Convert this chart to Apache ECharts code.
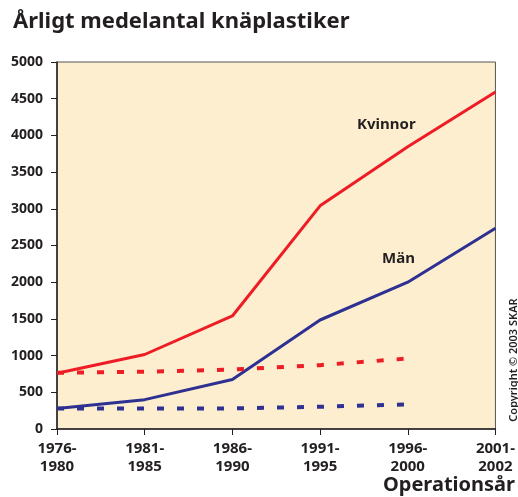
<!DOCTYPE html>
<html>
<head>
<meta charset="utf-8">
<script src="https://cdn.jsdelivr.net/npm/echarts@6/dist/echarts.min.js"></script>
<style>
html,body{margin:0;padding:0;background:#fff;}
#chart{width:518px;height:497px;}
</style>
</head>
<body>
<div id="chart"></div>
<script>
var categories = ['1976-\n1980', '1981-\n1985', '1986-\n1990', '1991-\n1995', '1996-\n2000', '2001-\n2002'];
var kvinnor = [760, 1015, 1540, 3040, 3845, 4590];
var man = [280, 400, 675, 1485, 2000, 2735];
var kvinnorDashed = [765, 780, 810, 870, 960, null];
var manDashed = [280, 280, 280, 303, 335, null];
var yMin = 0, yMax = 5000, yStep = 500;

var textColor = '#231f20';
var fontFam = '"Noto Sans", "Open Sans", sans-serif';
var red = '#ee1c25';
var blue = '#2e3192';

var chart = echarts.init(document.getElementById('chart'));
chart.setOption({
  animation: false,
  backgroundColor: '#ffffff',
  grid: {
    left: 57, right: 15, top: 62, bottom: 68,
    show: true, backgroundColor: '#fdeecf', borderColor: '#555', borderWidth: 1
  },
  title: {
    text: 'Årligt medelantal knäplastiker',
    left: 8, top: 6,
    textStyle: {fontFamily: fontFam, fontWeight: 'bold', fontSize: 22, color: textColor}
  },
  xAxis: {
    type: 'category',
    data: categories,
    boundaryGap: false,
    axisLine: {lineStyle: {color: '#231f20', width: 1.5}},
    axisTick: {show: true, length: 6, lineStyle: {color: '#231f20', width: 1}},
    axisLabel: {
      interval: 0, margin: 11, color: textColor, fontFamily: fontFam,
      fontWeight: 'bold', fontSize: 15, lineHeight: 18
    },
    splitLine: {show: false}
  },
  yAxis: {
    type: 'value',
    min: yMin, max: yMax, interval: yStep,
    axisLine: {show: true, lineStyle: {color: '#231f20', width: 1.5}},
    axisTick: {show: true, length: 6, lineStyle: {color: '#231f20', width: 1}},
    axisLabel: {margin: 14, color: textColor, fontFamily: fontFam, fontWeight: 'bold', fontSize: 14,
                formatter: function (v) { return String(v); }},
    splitLine: {show: false}
  },
  series: [
    {name: 'Kvinnor', type: 'line', data: kvinnor, symbol: 'none',
     lineStyle: {color: red, width: 3}},
    {name: 'Män', type: 'line', data: man, symbol: 'none',
     lineStyle: {color: blue, width: 3}},
    {name: 'Kvinnor streckad', type: 'line', data: kvinnorDashed, symbol: 'none',
     lineStyle: {color: red, width: 4, type: [7, 13]}},
    {name: 'Män streckad', type: 'line', data: manDashed, symbol: 'none',
     lineStyle: {color: blue, width: 4, type: [7, 13]}}
  ],
  graphic: [
    {type: 'text', left: 357, top: 117,
     style: {text: 'Kvinnor', fill: textColor, font: 'bold 15px ' + fontFam}},
    {type: 'text', left: 382, top: 251,
     style: {text: 'Män', fill: textColor, font: 'bold 15px ' + fontFam}},
    {type: 'text', right: 3, top: 475,
     style: {text: 'Operationsår', fill: textColor, font: 'bold 20px ' + fontFam}},
    {type: 'text', x: 514, y: 360, rotation: Math.PI / 2,
     style: {text: 'Copyright © 2003 SKAR', fill: textColor, font: '600 11px ' + fontFam,
             textAlign: 'center', textVerticalAlign: 'middle'}}
  ]
});
</script>
</body>
</html>
